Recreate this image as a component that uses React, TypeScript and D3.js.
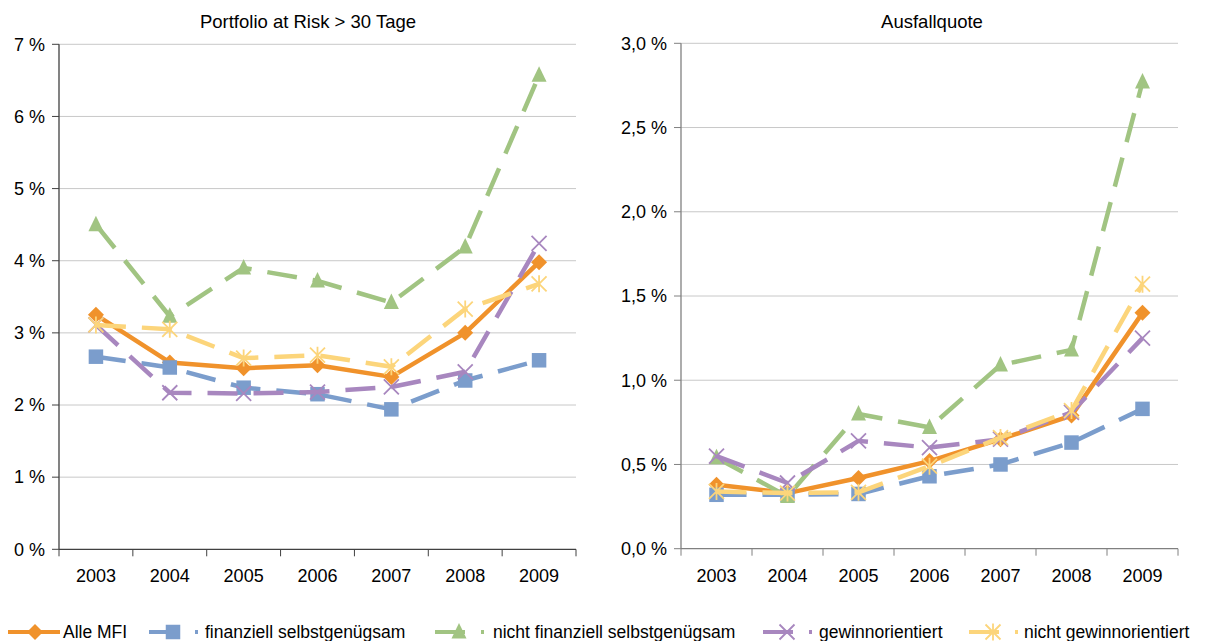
import React from "react";
import * as d3 from "d3";

const years = ["2003", "2004", "2005", "2006", "2007", "2008", "2009"];

// Portfolio at Risk > 30 Tage (%)
const parAlle = [3.25, 2.59, 2.51, 2.55, 2.39, 3.0, 3.98];
const parFinanziell = [2.67, 2.52, 2.24, 2.15, 1.94, 2.34, 2.62];
const parNichtFinanziell = [4.5, 3.23, 3.9, 3.72, 3.42, 4.19, 6.57];
const parGewinn = [3.11, 2.17, 2.16, 2.18, 2.25, 2.46, 4.24];
const parNichtGewinn = [3.11, 3.05, 2.65, 2.69, 2.53, 3.33, 3.68];

// Ausfallquote (%)
const afAlle = [0.38, 0.33, 0.42, 0.52, 0.65, 0.79, 1.4];
const afFinanziell = [0.32, 0.32, 0.325, 0.43, 0.5, 0.63, 0.83];
const afNichtFinanziell = [0.54, 0.31, 0.8, 0.72, 1.09, 1.18, 2.77];
const afGewinn = [0.55, 0.39, 0.64, 0.6, 0.65, 0.81, 1.25];
const afNichtGewinn = [0.34, 0.33, 0.335, 0.49, 0.66, 0.82, 1.57];

const leftTicks = [0, 1, 2, 3, 4, 5, 6, 7];
const rightTicks = [0, 0.5, 1.0, 1.5, 2.0, 2.5, 3.0];

const seriesNames = [
  "Alle MFI",
  "finanziell selbstgenügsam",
  "nicht finanziell selbstgenügsam",
  "gewinnorientiert",
  "nicht gewinnorientiert",
];

type Marker = "diamond" | "square" | "triangle" | "x" | "star";
type Style = { color: string; dash: string | null; marker: Marker };

const LONG_DASH = "30,16";

const styles: Style[] = [
  { color: "#F0922B", dash: null, marker: "diamond" },
  { color: "#7B9DCC", dash: LONG_DASH, marker: "square" },
  { color: "#A1C482", dash: LONG_DASH, marker: "triangle" },
  { color: "#A887BF", dash: LONG_DASH, marker: "x" },
  { color: "#FCD57B", dash: LONG_DASH, marker: "star" },
];

const FONT = "'Liberation Sans', Arial, sans-serif";

function MarkerShape({ type, x, y, color }: { type: Marker; x: number; y: number; color: string }) {
  switch (type) {
    case "diamond": {
      const r = 8;
      return <path d={`M${x},${y - r}L${x + r},${y}L${x},${y + r}L${x - r},${y}Z`} fill={color} />;
    }
    case "square": {
      const s = 14.5;
      return <rect x={x - s / 2} y={y - s / 2} width={s} height={s} fill={color} />;
    }
    case "triangle": {
      const r = 9;
      return <path d={`M${x},${y - r}L${x + 7.5},${y + 6.5}L${x - 7.5},${y + 6.5}Z`} fill={color} />;
    }
    case "x": {
      const r = 7.5;
      return (
        <path d={`M${x - r},${y - r}L${x + r},${y + r}M${x - r},${y + r}L${x + r},${y - r}`} stroke={color} strokeWidth={1.8} fill="none" />
      );
    }
    case "star": {
      const r = 7.5;
      return (
        <path
          d={`M${x - r},${y - r}L${x + r},${y + r}M${x - r},${y + r}L${x + r},${y - r}M${x},${y - r - 1}L${x},${y + r + 1}`}
          stroke={color}
          strokeWidth={1.8}
          fill="none"
        />
      );
    }
  }
}

type PanelProps = {
  title: string;
  titleX: number;
  x0: number;
  x1: number;
  y0: number;
  y1: number;
  ticks: number[];
  tickFormat: (v: number) => string;
  data: number[][];
  axisColor: string;
};

function Panel({ title, titleX, x0, x1, y0, y1, ticks, tickFormat, data, axisColor }: PanelProps) {
  const x = d3.scaleBand<string>().domain(years).range([x0, x1]);
  const y = d3.scaleLinear().domain([ticks[0], ticks[ticks.length - 1]]).range([y1, y0]);
  const cx = (yr: string) => (x(yr) ?? 0) + x.bandwidth() / 2;
  const line = d3
    .line<number>()
    .x((_, i) => cx(years[i]))
    .y((v) => y(v));
  const bounds = years.map((yr) => x(yr) ?? 0).concat([x1]);

  return (
    <g>
      <text x={titleX} y={28} textAnchor="middle" fontSize={18.5} fontFamily={FONT} fill="#000">
        {title}
      </text>
      {ticks.map((t) => (
        <g key={t}>
          {t > ticks[0] && <line x1={x0} x2={x1} y1={y(t)} y2={y(t)} stroke="#C8C8C8" strokeWidth={1} />}
          <line x1={x0 - 7} x2={x0} y1={y(t)} y2={y(t)} stroke={axisColor} strokeWidth={1} />
          <text x={x0 - 14} y={y(t)} dy="0.35em" textAnchor="end" fontSize={18} fontFamily={FONT} fill="#000">
            {tickFormat(t)}
          </text>
        </g>
      ))}
      <line x1={x0} x2={x0} y1={y0} y2={y1} stroke={axisColor} strokeWidth={1.3} />
      <line x1={x0} x2={x1} y1={y1} y2={y1} stroke={axisColor} strokeWidth={1.3} />
      {bounds.map((b, i) => (
        <line key={i} x1={b} x2={b} y1={y1} y2={y1 + 7} stroke={axisColor} strokeWidth={1} />
      ))}
      {years.map((yr) => (
        <text key={yr} x={cx(yr)} y={582} textAnchor="middle" fontSize={18} fontFamily={FONT} fill="#000">
          {yr}
        </text>
      ))}
      {[0, 1, 2, 3, 4].map((si) => {
        const st = styles[si];
        return (
          <g key={si}>
            <path
              d={line(data[si]) ?? ""}
              fill="none"
              stroke={st.color}
              strokeWidth={4.5}
              strokeDasharray={st.dash ?? undefined}
              strokeLinejoin="round"
            />
            {data[si].map((v, i) => (
              <MarkerShape key={i} type={st.marker} x={cx(years[i])} y={y(v)} color={st.color} />
            ))}
          </g>
        );
      })}
    </g>
  );
}

const legendX = [8, 149, 435, 763, 969];
const legendTextX = [63, 205, 493, 819, 1024];

export default function App() {
  const pct = (v: number) => `${v} %`;
  const pctComma = (v: number) => `${v.toFixed(1).replace(".", ",")} %`;
  const ly = 632;
  return (
    <svg width={1206} height={641} style={{ position: "absolute", left: 0, top: 0, background: "#fff" }}>
      <rect width={1206} height={641} fill="#fff" />
      <Panel
        title="Portfolio at Risk > 30 Tage"
        titleX={308}
        x0={59}
        x1={576}
        y0={44.3}
        y1={549.3}
        ticks={leftTicks}
        tickFormat={pct}
        data={[parAlle, parFinanziell, parNichtFinanziell, parGewinn, parNichtGewinn]}
        axisColor="#404040"
      />
      <Panel
        title="Ausfallquote"
        titleX={932}
        x0={681}
        x1={1178}
        y0={43.3}
        y1={548.7}
        ticks={rightTicks}
        tickFormat={pctComma}
        data={[afAlle, afFinanziell, afNichtFinanziell, afGewinn, afNichtGewinn]}
        axisColor="#808080"
      />
      {seriesNames.map((name, i) => {
        const st = styles[i];
        const lx = legendX[i];
        const len = i === 0 ? 52 : 49;
        return (
          <g key={name}>
            <line
              x1={lx}
              x2={lx + len}
              y1={ly}
              y2={ly}
              stroke={st.color}
              strokeWidth={4}
              strokeDasharray={st.dash ?? undefined}
            />
            <MarkerShape type={st.marker} x={lx + (i === 0 ? 27 : 24)} y={ly} color={st.color} />
            <text x={legendTextX[i]} y={ly} dy="0.35em" fontSize={17.5} fontFamily={FONT} fill="#000">
              {name}
            </text>
          </g>
        );
      })}
    </svg>
  );
}
